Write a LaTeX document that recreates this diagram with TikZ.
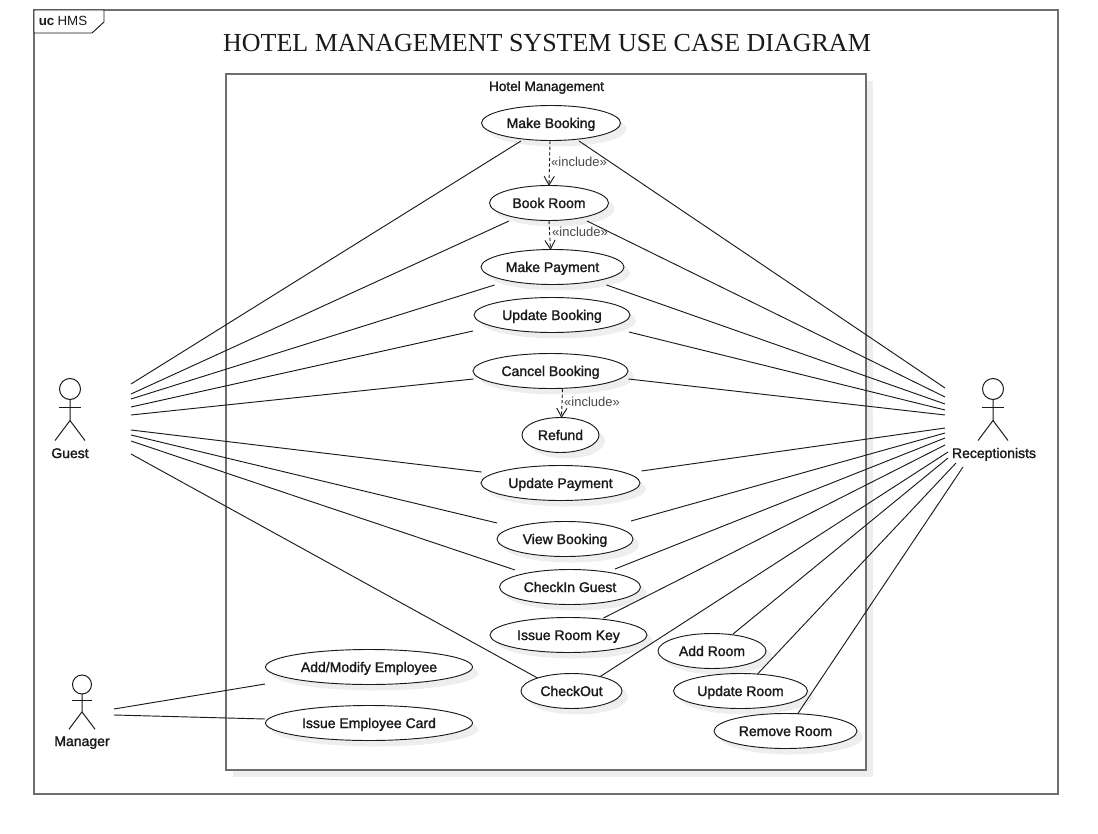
\documentclass[tikz,border=0pt]{standalone}
\usepackage{fontspec}
\setmainfont{Liberation Sans}
\newfontfamily\labfont[FakeBold=1.6]{Liberation Sans}
\newfontfamily\serfont{Liberation Serif}
\usetikzlibrary{arrows.meta,shapes.geometric,shadows}
\definecolor{framegray}{HTML}{6E6E6E}
\definecolor{inkc}{HTML}{1A1A1A}
\definecolor{shadowc}{HTML}{EEEEEE}
\tikzset{
  px/.style={x=0.75pt,y=-0.75pt},
  frameline/.style={draw=framegray,line width=1pt},
  tabline/.style={draw=inkc,line width=0.7pt,fill=white},
  boundary/.style={draw=framegray,line width=1.5pt,fill=white,
    general shadow={shadow xshift=5pt,shadow yshift=-5pt,fill=shadowc}},
  ucase/.style={ellipse,draw=inkc,line width=0.7pt,fill=white,inner sep=0pt,outer sep=0pt,
    text=inkc,font=\labfont\fontsize{10.5pt}{12pt}\selectfont,text height=7.5pt,text depth=0pt,
    general shadow={shadow xshift=4.5pt,shadow yshift=-4.5pt,fill=shadowc}},
  assoc/.style={draw=inkc,line width=0.7pt},
  incl/.style={draw=inkc,line width=0.7pt,dashed,dash pattern=on 2.4pt off 1.8pt,
    -{Straight Barb[length=6.5pt,width=7.5pt,line width=0.7pt,round]}},
  incllab/.style={text=black!72,font=\fontsize{9.75pt}{11pt}\selectfont,inner sep=0pt},
  actorlab/.style={text=inkc,font=\labfont\fontsize{10.5pt}{12pt}\selectfont,inner sep=0pt,text height=7.5pt,text depth=0pt},
  actorhead/.style={circle,draw=inkc,line width=0.75pt,inner sep=0pt,outer sep=0pt},
  actorline/.style={draw=inkc,line width=0.75pt},
}
\newcommand{\ucnode}[5]{\node[ucase,minimum width=#4*0.75pt,minimum height=26.25pt] (#1) at (#2,#3) {\makebox[0pt][c]{#5}};}
\newcommand{\actorfig}[5]{% name, x, head y, radius, scale of limbs
  \node[actorhead,minimum size=#4*1.5pt] (#1head) at (#2,#3) {};
  \coordinate (#1hip) at (#2,#3+#5*31.5);
  \coordinate (#1la) at (#2-#5*11,#3+#5*18.5);
  \coordinate (#1ra) at (#2+#5*11,#3+#5*18.5);
  \coordinate (#1lf) at (#2-#5*15,#3+#5*51.5);
  \coordinate (#1rf) at (#2+#5*15,#3+#5*51.5);
  \draw[actorline] (#1head.south) -- (#1hip) -- (#1lf);
  \draw[actorline] (#1hip) -- (#1rf);
  \draw[actorline] (#1la) -- (#1ra);
}
\begin{document}
\begin{tikzpicture}[px]
\useasboundingbox (0,0) rectangle (1098,834);
\fill[white] (0,0) rectangle (1098,834);
% frame
\draw[frameline] (34,10) rectangle (1058,794);
\draw[tabline] (34,10) -- (104,10) -- (104,22) -- (92,33) -- (34,33) -- cycle;
\node[anchor=base west,inner sep=0pt,text=inkc,font=\fontsize{10pt}{12pt}\selectfont] (tabname) at (38.5,25.5) {\textbf{uc}\hspace{2.4pt}HMS};
\node[inner sep=0pt,text=inkc,font=\serfont\fontsize{19.5pt}{24pt}\selectfont] (title) at (547,43.5) {HOTEL MANAGEMENT SYSTEM USE CASE DIAGRAM};
% boundary
\draw[boundary] (226,74) rectangle (866,770);
\node[inner sep=0pt,text=inkc,text height=7.5pt,text depth=0pt,font=\labfont\fontsize{10.2pt}{12pt}\selectfont] (sysname) at (546.5,86) {Hotel Management};
% use cases
\ucnode{mb}{551}{123}{139}{Make Booking}
\ucnode{br}{549}{203}{119}{Book Room}
\ucnode{mp}{552.5}{267}{143}{Make Payment}
\ucnode{ub}{552}{315}{156}{Update Booking}
\ucnode{cb}{550.5}{371}{155}{Cancel Booking}
\ucnode{rf}{560.5}{435}{77}{Refund}
\ucnode{up}{560.5}{483}{159}{Update Payment}
\ucnode{vb}{565}{539}{136}{View Booking}
\ucnode{ci}{570}{587}{141}{CheckIn Guest}
\ucnode{ik}{568.5}{635}{157}{Issue Room Key}
\ucnode{co}{571.5}{691}{101}{CheckOut}
\ucnode{ar}{712}{651}{108}{Add Room}
\ucnode{ur}{740.5}{691}{134}{Update Room}
\ucnode{rr}{785.5}{731}{143}{Remove Room}
\ucnode{ae}{369}{667}{207}{Add/Modify Employee}
\ucnode{ie}{369}{723}{207}{Issue Employee Card}
% actors
\actorfig{gu}{70}{389}{10.5}{1}
\node[actorlab] (guest) at (70,453) {Guest};
\actorfig{re}{993}{389}{10.5}{1}
\node[actorlab] (recep) at (994,453) {Receptionists};
\actorfig{ma}{82}{684.5}{9.5}{0.87}
\node[actorlab] (manager) at (82,741) {Manager};
% free ends near the actors
\coordinate (g1) at (131,384);
\coordinate (g2) at (131,394);
\coordinate (g3) at (131,399);
\coordinate (g4) at (131,407);
\coordinate (g5) at (131,415);
\coordinate (g6) at (131,430);
\coordinate (g7) at (131,435);
\coordinate (g8) at (131,441);
\coordinate (g9) at (131,454);
\coordinate (r1) at (945,388);
\coordinate (r2) at (945,397);
\coordinate (r3) at (945,404);
\coordinate (r4) at (945,410);
\coordinate (r5) at (945,415);
\coordinate (r6) at (945,428);
\coordinate (r7) at (945,433);
\coordinate (r8) at (945,438);
\coordinate (r9) at (945,445);
\coordinate (r10) at (948,452);
\coordinate (r11) at (948,458);
\coordinate (r12) at (956,463);
\coordinate (r13) at (963,467);
\coordinate (m1) at (114,709);
\coordinate (m2) at (114,715);
% guest associations
\draw[assoc] (g1) -- ([shift={(-30,18)}]mb.center);
\draw[assoc] (g2) -- ([shift={(-40,18)}]br.center);
\draw[assoc] (g3) -- ([shift={(-58,18)}]mp.center);
\draw[assoc] (g4) -- ([shift={(-79,16)}]ub.center);
\draw[assoc] (g5) -- ([shift={(-77,8)}]cb.center);
\draw[assoc] (g6) -- ([shift={(-79,-11)}]up.center);
\draw[assoc] (g7) -- ([shift={(-68,-16)}]vb.center);
\draw[assoc] (g8) -- ([shift={(-55,-17)}]ci.center);
\draw[assoc] (g9) -- ([shift={(-34,-13)}]co.center);
% receptionist associations
\draw[assoc] (r1) -- ([shift={(28,18)}]mb.center);
\draw[assoc] (r2) -- ([shift={(38,18)}]br.center);
\draw[assoc] (r3) -- ([shift={(54,18)}]mp.center);
\draw[assoc] (r4) -- ([shift={(77,17)}]ub.center);
\draw[assoc] (r5) -- ([shift={(78,8)}]cb.center);
\draw[assoc] (r6) -- ([shift={(81,-12)}]up.center);
\draw[assoc] (r7) -- ([shift={(66,-18)}]vb.center);
\draw[assoc] (r8) -- ([shift={(45,-18)}]ci.center);
\draw[assoc] (r9) -- ([shift={(35,-17)}]ik.center);
\draw[assoc] (r10) -- ([shift={(28,-14)}]co.center);
\draw[assoc] (r11) -- ([shift={(21,-17)}]ar.center);
\draw[assoc] (r12) -- ([shift={(17,-17)}]ur.center);
\draw[assoc] (r13) -- ([shift={(12,-17)}]rr.center);
% manager associations
\draw[assoc] (m1) -- ([shift={(-104,17)}]ae.center);
\draw[assoc] (m2) -- ([shift={(-104,-4)}]ie.center);
% includes
\draw[incl] ([shift={(-1,18)}]mb.center) -- ([shift={(0,-17.5)}]br.center);
\draw[incl] ([shift={(0,18)}]br.center) -- ([shift={(-2,-17.5)}]mp.center);
\draw[incl] ([shift={(12,18)}]cb.center) -- ([shift={(1,-17.5)}]rf.center);
\node[incllab] (inc1) at (579,161.5) {«include»};
\node[incllab] (inc2) at (580,231.5) {«include»};
\node[incllab] (inc3) at (592,401.5) {«include»};
\end{tikzpicture}
\end{document}
